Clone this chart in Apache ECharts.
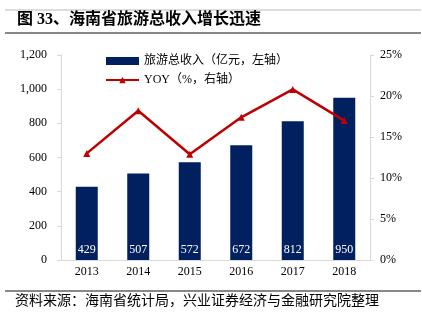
<!DOCTYPE html>
<html><head><meta charset="utf-8">
<script src="https://cdn.jsdelivr.net/npm/echarts@6/dist/echarts.min.js"></script>
<style>html,body{margin:0;padding:0;background:#fff}#c{width:422px;height:321px}</style>
</head><body><div id="c"></div>
<script>
const years = ['2013','2014','2015','2016','2017','2018'];
const revenue = [429, 507, 572, 672, 812, 950];
const yoy = [13.0, 18.2, 12.9, 17.4, 20.8, 17.0];
const leftTicks = {min: 0, max: 1200, interval: 200};
const rightTicks = {min: 0, max: 25, interval: 5};
const FF = '"Liberation Serif","Noto Sans CJK SC",serif';
const chart = echarts.init(document.getElementById('c'));
chart.setOption({
  animation: false,
  textStyle: {fontFamily: FF},
  grid: {left: 61, right: 52, top: 55, bottom: 61},
  legend: {
    orient: 'vertical', left: 100, top: 50, itemGap: 7,
    itemWidth: 33, itemHeight: 8,
    textStyle: {fontFamily: FF, fontSize: 12, color: '#000'},
    data: [{name: '旅游总收入（亿元，左轴）', icon: 'rect'}, {name: 'YOY（%，右轴）'}]
  },
  graphic: [
    {type: 'line', shape: {x1: 5, y1: 10, x2: 421, y2: 10}, style: {stroke: '#bbb', lineWidth: 1}},
    {type: 'text', left: 17, top: 12, style: {text: '图 33、海南省旅游总收入增长迅速', font: 'bold 16px ' + FF, fill: '#000'}},
    {type: 'line', shape: {x1: 5, y1: 33, x2: 421, y2: 33}, style: {stroke: '#888', lineWidth: 2}},
    {type: 'line', shape: {x1: 5, y1: 291, x2: 421, y2: 291}, style: {stroke: '#888', lineWidth: 2}},
    {type: 'text', left: 15, top: 294, style: {text: '资料来源：海南省统计局，兴业证券经济与金融研究院整理', font: '14px ' + FF, fill: '#000'}}
  ],
  xAxis: {
    type: 'category', data: years,
    axisLine: {lineStyle: {color: '#d9d9d9'}},
    axisTick: {show: false},
    axisLabel: {color: '#000', fontSize: 12, margin: 6, fontFamily: FF}
  },
  yAxis: [
    {type: 'value', min: leftTicks.min, max: leftTicks.max, interval: leftTicks.interval,
     splitLine: {show: false},
     axisLine: {show: true, lineStyle: {color: '#d9d9d9'}},
     axisTick: {show: true, length: 4, lineStyle: {color: '#d9d9d9'}},
     axisLabel: {color: '#000', fontSize: 12, margin: 14, fontFamily: FF,
       formatter: v => v.toLocaleString('en-US')}},
    {type: 'value', min: rightTicks.min, max: rightTicks.max, interval: rightTicks.interval,
     splitLine: {show: false},
     axisLine: {show: true, lineStyle: {color: '#d9d9d9'}},
     axisTick: {show: true, length: 4, lineStyle: {color: '#d9d9d9'}},
     axisLabel: {color: '#000', fontSize: 12, margin: 10, fontFamily: FF, formatter: '{value}%'}}
  ],
  series: [
    {name: '旅游总收入（亿元，左轴）', type: 'bar', data: revenue, barWidth: 22,
     itemStyle: {color: '#002060'},
     label: {show: true, position: 'insideBottom', distance: 4, color: '#fff', fontSize: 12, fontFamily: FF}},
    {name: 'YOY（%，右轴）', type: 'line', yAxisIndex: 1, data: yoy,
     symbol: 'triangle', symbolSize: 7,
     lineStyle: {color: '#C00000', width: 2.5}, itemStyle: {color: '#C00000'}}
  ]
});
</script></body></html>
